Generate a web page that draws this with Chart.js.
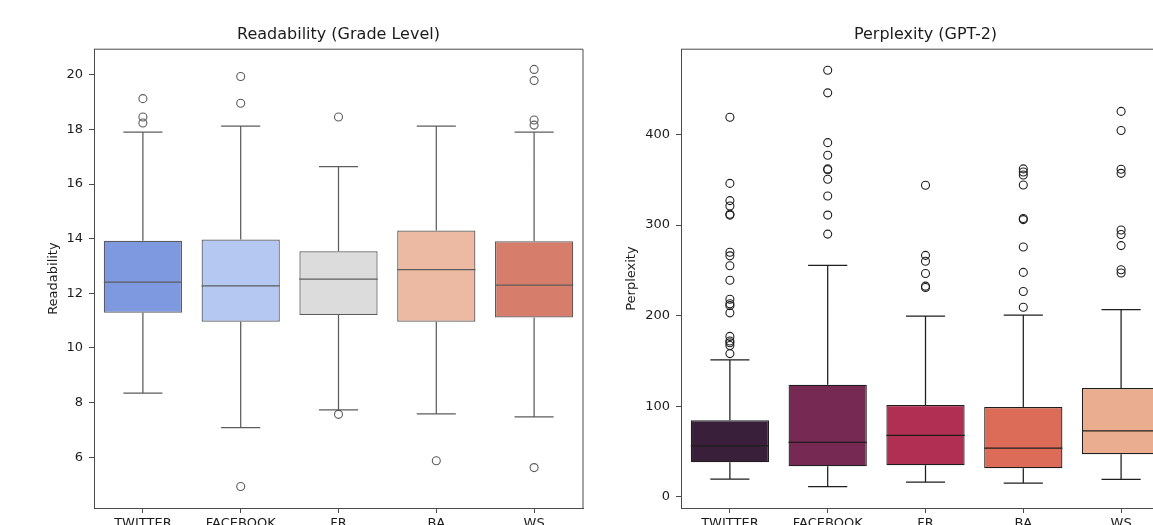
<!DOCTYPE html>
<html lang="en">
<head>
    <meta charset="UTF-8">
    <title>Readability and Perplexity</title>
    <script src="https://cdn.jsdelivr.net/npm/chart.js"></script>
    <style>
        html, body {
            margin: 0;
            padding: 0;
            background: #ffffff;
            overflow: hidden;
        }
        #figure {
            position: relative;
            width: 1153px;
            height: 525px;
            overflow: hidden;
        }
        .panel {
            position: absolute;
            top: 0;
            height: 560px;
        }
        #left-panel { left: 0; width: 600px; }
        #right-panel { left: 600px; width: 553px; }
    </style>
</head>
<body>
    <div id="figure">
        <div class="panel" id="left-panel"><canvas id="readChart"></canvas></div>
        <div class="panel" id="right-panel"><canvas id="perpChart"></canvas></div>
    </div>

    <script>
        const categories = ['TWITTER', 'FACEBOOK', 'FR', 'BA', 'WS'];

        // Readability (grade level) box stats
        const readLow    = [8.35, 7.08, 7.73, 7.59, 7.48];
        const readQ1     = [11.29, 10.96, 11.21, 10.96, 11.12];
        const readMedian = [12.41, 12.27, 12.52, 12.87, 12.30];
        const readQ3     = [13.93, 13.97, 13.54, 14.30, 13.91];
        const readHigh   = [17.90, 18.12, 16.64, 18.12, 17.90];
        const readOutliers = [
            [19.13, 18.46, 18.24],
            [19.94, 18.96, 4.93],
            [18.46, 7.57],
            [5.87],
            [20.20, 19.79, 18.35, 18.16, 5.62]
        ];
        const readTicks = [6, 8, 10, 12, 14, 16, 18, 20];

        // Perplexity (GPT-2) box stats
        const perpLow    = [19.5, 11, 16, 15, 19.2];
        const perpQ1     = [38, 33.6, 34.8, 31.4, 46.9];
        const perpMedian = [56, 60, 67.7, 53.6, 72.8];
        const perpQ3     = [84.5, 123.5, 101.3, 99.1, 120.1];
        const perpHigh   = [151, 255.5, 199.3, 200.4, 206.7];
        const perpOutliers = [
            [419, 346, 327, 321, 312, 311, 270, 266, 255, 239, 218, 213, 211, 203, 177, 172, 170, 167, 158],
            [471, 446, 391, 377, 362, 361, 350.5, 332, 311, 290],
            [344, 266.5, 260, 246.5, 232.5, 231],
            [362, 358.6, 355.3, 344.2, 307.2, 306, 275.8, 247.7, 226.6, 209.2],
            [425.5, 404.4, 361.6, 357.1, 294.6, 289.5, 277.3, 250.6, 247]
        ];
        const perpTicks = [0, 100, 200, 300, 400];

        const coolwarm = ['#7f99e0', '#b4c8f2', '#dcdcdc', '#ecbaa3', '#d67e6b'];
        const rocket = ['#3a1f3b', '#762953', '#b12f52', '#dc6c58', '#eaad8f'];

        const FONT = "'DejaVu Sans', sans-serif";
        const TEXT = '#1c1c1c';
        const SPINE = '#4a4a4a';

        // lets the plot area run past the canvas edge (the figure is cropped on the right)
        const widePlot = {
            id: 'widePlot',
            afterLayout(chart, args, opts) {
                if (!opts.right) return;
                const a = chart.chartArea;
                a.right = opts.right;
                a.width = a.right - a.left;
                const x = chart.scales.x;
                x.right = opts.right;
                x.width = x.right - x.left;
                x.configure();
                if (chart.titleBlock) {
                    chart.titleBlock.left = a.left;
                    chart.titleBlock.right = a.right;
                    chart.titleBlock.width = a.width;
                }
            }
        };

        // whiskers, caps, medians and the top/right spines
        const boxPlotExtras = {
            id: 'boxPlotExtras',
            afterDatasetsDraw(chart, args, opts) {
                const ctx = chart.ctx;
                const x = chart.scales.x, y = chart.scales.y;
                const bars = chart.getDatasetMeta(0).data;
                ctx.save();
                ctx.strokeStyle = opts.lineColor;
                ctx.lineWidth = 1.25;
                ctx.beginPath();
                opts.low.forEach((lo, i) => {
                    const cx = x.getPixelForValue(i);
                    const half = bars[i].width / 2;
                    const cap = half / 2;
                    const yLo = y.getPixelForValue(lo), yHi = y.getPixelForValue(opts.high[i]);
                    const yQ1 = y.getPixelForValue(opts.q1[i]), yQ3 = y.getPixelForValue(opts.q3[i]);
                    const yMed = y.getPixelForValue(opts.median[i]);
                    ctx.moveTo(cx, yQ1); ctx.lineTo(cx, yLo);
                    ctx.moveTo(cx, yQ3); ctx.lineTo(cx, yHi);
                    ctx.moveTo(cx - cap, yLo); ctx.lineTo(cx + cap, yLo);
                    ctx.moveTo(cx - cap, yHi); ctx.lineTo(cx + cap, yHi);
                    ctx.moveTo(cx - half, yMed); ctx.lineTo(cx + half, yMed);
                });
                ctx.stroke();
                const a = chart.chartArea;
                ctx.strokeStyle = SPINE;
                ctx.lineWidth = 1;
                ctx.beginPath();
                ctx.moveTo(a.left, a.top); ctx.lineTo(a.right, a.top); ctx.lineTo(a.right, a.bottom);
                ctx.stroke();
                ctx.restore();
            }
        };

        function makePanel(canvasId, cfg) {
            const outlierPoints = [];
            cfg.outliers.forEach((list, i) => {
                list.forEach(v => outlierPoints.push({ x: categories[i], y: v }));
            });

            return new Chart(document.getElementById(canvasId), {
                type: 'bar',
                data: {
                    labels: categories,
                    datasets: [{
                        data: cfg.q1.map((v, i) => [v, cfg.q3[i]]),
                        backgroundColor: cfg.colors,
                        borderColor: cfg.lineColor,
                        borderWidth: 1.25,
                        borderSkipped: false,
                        barPercentage: 0.8,
                        categoryPercentage: 1.0
                    }, {
                        type: 'line',
                        data: outlierPoints,
                        showLine: false,
                        pointRadius: 4,
                        pointBorderWidth: 1.1,
                        pointBackgroundColor: 'rgba(255,255,255,0)',
                        pointBorderColor: cfg.lineColor
                    }]
                },
                options: {
                    responsive: true,
                    maintainAspectRatio: false,
                    animation: false,
                    layout: { padding: { top: 25, right: cfg.padRight, bottom: 12, left: 0 } },
                    plugins: {
                        legend: { display: false },
                        tooltip: { enabled: false },
                        title: {
                            display: true,
                            text: cfg.title,
                            fullSize: false,
                            color: TEXT,
                            font: { family: FONT, size: 16, weight: 'normal', lineHeight: 1.2 },
                            padding: { top: 0, bottom: 5 }
                        },
                        widePlot: { right: cfg.plotRight },
                        boxPlotExtras: {
                            lineColor: cfg.lineColor,
                            low: cfg.low, q1: cfg.q1, median: cfg.median, q3: cfg.q3, high: cfg.high
                        }
                    },
                    scales: {
                        x: {
                            offset: true,
                            afterFit: s => { s.height = 40; },
                            grid: { drawOnChartArea: false, tickLength: 5, tickColor: SPINE, offset: false },
                            border: { color: SPINE, width: 1 },
                            ticks: { color: TEXT, padding: 3, font: { family: FONT, size: 13 } }
                        },
                        y: {
                            min: cfg.yMin,
                            max: cfg.yMax,
                            afterFit: s => { s.width = cfg.axisWidth; },
                            afterBuildTicks: s => { s.ticks = cfg.ticks.map(v => ({ value: v })); },
                            grid: { drawOnChartArea: false, tickLength: 5, tickColor: SPINE },
                            border: { color: SPINE, width: 1 },
                            ticks: { color: TEXT, padding: 6, font: { family: FONT, size: 13 } },
                            title: {
                                display: true,
                                text: cfg.yTitle,
                                color: TEXT,
                                font: { family: FONT, size: 13 },
                                padding: { top: cfg.yTitlePad, bottom: 0 }
                            }
                        }
                    }
                },
                plugins: [widePlot, boxPlotExtras]
            });
        }

        makePanel('readChart', {
            title: 'Readability (Grade Level)',
            yTitle: 'Readability',
            low: readLow, q1: readQ1, median: readMedian, q3: readQ3, high: readHigh,
            outliers: readOutliers,
            ticks: readTicks,
            yMin: 4.14, yMax: 20.94,
            colors: coolwarm,
            lineColor: '#5c5c5c',
            axisWidth: 94,
            padRight: 17,
            plotRight: null,
            yTitlePad: 46
        });

        makePanel('perpChart', {
            title: 'Perplexity (GPT-2)',
            yTitle: 'Perplexity',
            low: perpLow, q1: perpQ1, median: perpMedian, q3: perpQ3, high: perpHigh,
            outliers: perpOutliers,
            ticks: perpTicks,
            yMin: -12.5, yMax: 494.2,
            colors: rocket,
            lineColor: '#1e1e1e',
            axisWidth: 81,
            padRight: 0,
            plotRight: 570,
            yTitlePad: 24
        });
    </script>
</body>
</html>
